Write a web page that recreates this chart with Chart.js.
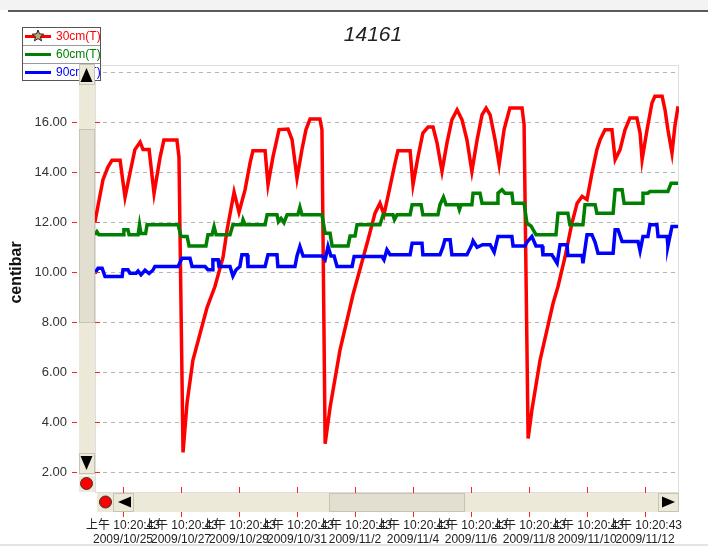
<!DOCTYPE html>
<html>
<head>
<meta charset="utf-8">
<script src="https://cdn.jsdelivr.net/npm/chart.js@4.4.0/dist/chart.umd.min.js"></script>
<style>
  html, body { margin: 0; padding: 0; background: #fff; }
  #wrap { width: 708px; height: 546px; }
</style>
</head>
<body>
<div id="wrap"><canvas id="chart" width="708" height="546"></canvas></div>
<script>
// x = days since 2009/10/25 10:20:43, y = centibar
const red30 = [
  [-0.97,12.0],[-0.69,13.7],[-0.52,14.2],[-0.38,14.47],[-0.10,14.47],[0.07,13.0],[0.24,13.96],[0.41,14.9],[0.59,15.2],[0.69,14.9],[0.90,14.9],[1.07,13.15],[1.28,14.6],[1.41,15.28],[1.86,15.28],[1.93,14.6],
  [2.07,2.8],[2.21,4.8],[2.41,6.48],[2.90,8.6],[3.17,9.43],[3.45,10.6],[3.59,11.7],[3.83,13.2],[4.00,12.4],[4.21,13.3],[4.38,14.36],[4.48,14.85],[4.90,14.85],[5.00,13.5],[5.17,14.6],[5.38,15.7],[5.69,15.72],[5.83,15.3],[6.00,13.76],[6.17,14.9],[6.31,15.7],[6.45,16.12],[6.79,16.12],[6.86,15.7],
  [6.97,3.15],[7.14,4.6],[7.48,6.88],[7.93,9.1],[8.45,11.3],[8.69,12.36],[8.86,12.76],[9.00,12.3],[9.21,13.43],[9.38,14.36],[9.48,14.85],[9.90,14.85],[10.00,13.5],[10.17,14.6],[10.34,15.56],[10.52,15.8],[10.69,15.8],[10.83,15.16],[11.00,14.03],[11.17,15.16],[11.34,16.09],[11.52,16.49],[11.69,16.09],[11.86,15.29],[12.03,14.03],[12.21,15.29],[12.38,16.29],[12.52,16.56],[12.66,16.29],[12.83,15.29],[12.97,14.3],[13.14,15.7],[13.34,16.56],[13.76,16.56],[13.83,15.9],
  [13.97,3.36],[14.10,4.5],[14.38,6.48],[14.83,8.76],[15.00,9.43],[15.24,10.6],[15.48,11.96],[15.66,12.76],[15.83,13.03],[16.00,12.9],[16.17,13.96],[16.34,14.9],[16.45,15.29],[16.62,15.69],[16.86,15.69],[16.97,14.5],[17.14,14.9],[17.31,15.69],[17.48,16.16],[17.72,16.16],[17.83,15.56],[17.90,14.5],[18.07,15.69],[18.24,16.76],[18.34,17.03],[18.59,17.03],[18.69,16.49],[18.79,15.69],[18.93,14.76],[19.03,15.83],[19.14,16.63]
];
const green60 = [
  [-0.97,11.5],[-0.90,11.62],[-0.83,11.5],[0.00,11.5],[0.03,11.7],[0.17,11.7],[0.21,11.5],[0.52,11.5],[0.57,11.9],[0.62,11.55],[0.78,11.55],[0.83,11.9],[1.90,11.9],[2.00,11.43],[2.21,11.43],[2.28,11.05],[2.86,11.05],[2.93,11.5],[3.07,11.5],[3.14,11.82],[3.21,11.5],[3.69,11.5],[3.79,11.9],[4.10,11.9],[4.14,12.1],[4.21,11.9],[4.90,11.9],[4.97,12.3],[5.31,12.3],[5.36,12.02],[5.45,12.15],[5.55,11.98],[5.66,12.3],[6.03,12.3],[6.10,12.6],[6.17,12.3],[6.86,12.3],
  [6.97,11.56],[7.14,11.56],[7.21,11.05],[7.76,11.05],[7.83,11.45],[8.00,11.45],[8.07,11.9],[8.86,11.9],[8.97,12.3],[9.31,12.3],[9.36,12.1],[9.45,12.3],[9.90,12.3],[9.97,12.7],[10.28,12.7],[10.34,12.3],[10.86,12.3],[10.93,12.7],[11.05,13.0],[11.14,12.7],[11.55,12.7],[11.60,12.5],[11.66,12.7],[12.03,12.7],[12.07,13.16],[12.31,13.16],[12.38,12.76],[12.90,12.76],[12.93,13.16],[13.07,13.3],[13.17,13.16],[13.41,13.16],[13.45,12.76],[13.83,12.76],
  [13.93,11.95],[14.07,11.85],[14.24,11.5],[14.93,11.5],[15.00,12.36],[15.34,12.36],[15.41,11.9],[15.86,11.9],[15.93,12.7],[16.28,12.7],[16.34,12.36],[16.90,12.36],[16.97,13.3],[17.21,13.3],[17.28,12.76],[17.90,12.76],[17.93,13.16],[18.10,13.16],[18.17,13.23],[18.79,13.23],[18.90,13.56],[19.14,13.56]
];
const blue90 = [
  [-0.97,9.96],[-0.86,10.16],[-0.72,10.16],[-0.62,9.83],[-0.03,9.83],[0.00,10.1],[0.17,10.1],[0.24,9.96],[0.45,9.96],[0.52,10.05],[0.62,9.9],[0.76,10.08],[0.90,9.95],[1.03,10.08],[1.10,10.23],[1.90,10.23],[2.03,10.56],[2.31,10.56],[2.38,10.23],[2.83,10.23],[2.93,10.1],[3.07,10.1],[3.10,10.5],[3.28,10.5],[3.31,10.23],[3.69,10.23],[3.79,9.85],[3.90,10.1],[4.03,10.23],[4.10,10.7],[4.28,10.7],[4.31,10.23],[4.90,10.23],[5.00,10.7],[5.31,10.7],[5.34,10.23],[5.93,10.23],[6.00,10.65],[6.10,11.03],[6.21,10.65],[6.86,10.65],
  [6.97,10.5],[7.07,11.03],[7.17,10.65],[7.28,10.65],[7.38,10.23],[7.90,10.23],[7.97,10.63],[8.93,10.63],[9.00,10.5],[9.10,10.9],[9.21,10.7],[9.90,10.7],[9.97,11.16],[10.31,11.16],[10.34,10.7],[10.93,10.7],[11.03,11.0],[11.10,11.3],[11.28,11.3],[11.34,10.7],[11.86,10.7],[12.03,11.1],[12.07,11.25],[12.21,11.0],[12.40,11.1],[12.66,11.1],[12.80,10.8],[12.93,11.43],[13.41,11.43],[13.45,11.05],[13.86,11.05],
  [13.93,11.2],[14.10,11.43],[14.24,11.05],[14.45,11.05],[14.48,10.7],[14.79,10.7],[14.97,10.36],[15.07,11.1],[15.31,11.1],[15.34,10.67],[15.83,10.67],[15.86,10.36],[16.00,11.5],[16.17,11.5],[16.28,11.2],[16.38,10.76],[16.90,10.76],[16.97,11.7],[17.07,11.7],[17.21,11.23],[17.76,11.23],[17.83,10.85],[17.93,11.43],[18.10,11.43],[18.17,11.9],[18.41,11.9],[18.45,11.43],[18.76,11.43],[18.79,11.05],[18.93,11.83],[19.14,11.83]
];

const seriesNames = ['30cm(T)', '60cm(T)', '90cm(T)'];
const seriesColors = ['#ff0000', '#008000', '#0000ff'];
const xTickDays = [0, 2, 4, 6, 8, 10, 12, 14, 16, 18];
const xTickDates = ['2009/10/25', '2009/10/27', '2009/10/29', '2009/10/31', '2009/11/2',
                    '2009/11/4', '2009/11/6', '2009/11/8', '2009/11/10', '2009/11/12'];
const xTickTime = '上午 10:20:43';
const yTicks = [2, 4, 6, 8, 10, 12, 14, 16, 18];

const FONT = '"Liberation Sans", Arial, "Noto Sans CJK SC", sans-serif';
const BEIGE = '#ece9d8';

function tri(ctx, pts) {
    ctx.beginPath();
    ctx.moveTo(pts[0], pts[1]);
    ctx.lineTo(pts[2], pts[3]);
    ctx.lineTo(pts[4], pts[5]);
    ctx.closePath();
    ctx.fillStyle = '#000';
    ctx.fill();
}

function dot(ctx, x, y) {
    ctx.beginPath();
    ctx.arc(x, y, 6, 0, Math.PI * 2);
    ctx.fillStyle = '#ff0000';
    ctx.fill();
    ctx.strokeStyle = '#333';
    ctx.lineWidth = 1;
    ctx.stroke();
}

function star(ctx, cx, cy, r1, r2) {
    ctx.beginPath();
    for (let i = 0; i < 10; i++) {
        const r = i % 2 ? r2 : r1;
        const a = -Math.PI / 2 + i * Math.PI / 5;
        ctx.lineTo(cx + r * Math.cos(a), cy + r * Math.sin(a));
    }
    ctx.closePath();
    ctx.fillStyle = '#c9a46a';
    ctx.fill();
    ctx.strokeStyle = '#222';
    ctx.lineWidth = 1;
    ctx.stroke();
}

const decor = {
    id: 'decor',
    beforeDraw(chart) {
        const { ctx, chartArea: a } = chart;
        ctx.save();
        ctx.fillStyle = '#fff';
        ctx.fillRect(0, 0, chart.width, chart.height);
        // window frame at the top and bottom
        ctx.fillStyle = '#f3f3f3';
        ctx.fillRect(0, 0, chart.width, 10);
        ctx.fillStyle = '#5a5a5a';
        ctx.fillRect(8, 10, chart.width - 8, 2);
        ctx.fillStyle = '#e4e4e4';
        ctx.fillRect(0, 544, chart.width, 2);
        // plot frame
        ctx.strokeStyle = '#dedede';
        ctx.lineWidth = 1;
        ctx.strokeRect(a.left + 0.5, a.top + 0.5, a.right - a.left - 1, a.bottom - a.top + 12);
        ctx.restore();
    },
    afterDraw(chart) {
        const { ctx } = chart;
        const xs = chart.scales.x, ys = chart.scales.y;
        ctx.save();

        // title
        ctx.fillStyle = '#222';
        ctx.font = 'italic 21px ' + FONT;
        ctx.textAlign = 'center';
        ctx.textBaseline = 'middle';
        ctx.fillText('14161', 373, 35);

        // red tick marks
        ctx.strokeStyle = '#ff2020';
        ctx.lineWidth = 1;
        ctx.beginPath();
        yTicks.forEach(v => {
            const y = Math.round(ys.getPixelForValue(v)) + 0.5;
            ctx.moveTo(72, y); ctx.lineTo(77, y);
            ctx.moveTo(95, y); ctx.lineTo(100, y);
        });
        xTickDays.forEach(d => {
            const x = Math.round(xs.getPixelForValue(d)) + 0.5;
            ctx.moveTo(x, 487); ctx.lineTo(x, 493);
            ctx.moveTo(x, 511); ctx.lineTo(x, 517);
        });
        ctx.stroke();

        // legend box
        ctx.fillStyle = '#fff';
        ctx.fillRect(22, 27, 79, 54);
        ctx.strokeStyle = '#555';
        ctx.strokeRect(22.5, 27.5, 78, 53);
        ctx.strokeStyle = '#999';
        ctx.beginPath();
        ctx.moveTo(23, 45.5); ctx.lineTo(100, 45.5);
        ctx.moveTo(23, 63.5); ctx.lineTo(100, 63.5);
        ctx.stroke();
        ctx.font = '12px ' + FONT;
        ctx.textAlign = 'left';
        seriesNames.forEach((name, i) => {
            const y = 36.5 + i * 18;
            ctx.strokeStyle = seriesColors[i];
            ctx.lineWidth = 3;
            ctx.beginPath();
            ctx.moveTo(25, y); ctx.lineTo(51, y);
            ctx.stroke();
            ctx.fillStyle = seriesColors[i];
            ctx.fillText(name, 56, y);
        });
        star(ctx, 38, 36, 6, 2.6);

        // vertical scrollbar
        ctx.fillStyle = BEIGE;
        ctx.fillRect(79, 64, 16, 411);
        ctx.fillStyle = '#e2ded0';
        ctx.fillRect(79, 129, 16, 194);
        ctx.strokeStyle = '#c8c4b4';
        ctx.lineWidth = 1;
        ctx.strokeRect(79.5, 129.5, 15, 193);
        ctx.strokeRect(79.5, 64.5, 15, 20);
        ctx.strokeRect(79.5, 453.5, 15, 20);
        tri(ctx, [80.5, 82, 92.5, 82, 86.5, 68]);
        tri(ctx, [80.5, 456, 92.5, 456, 86.5, 470]);
        ctx.fillStyle = BEIGE;
        ctx.fillRect(79, 476, 16, 16);
        dot(ctx, 86.5, 483.5);

        // horizontal scrollbar
        ctx.fillStyle = BEIGE;
        ctx.fillRect(97, 493, 582, 19);
        ctx.fillStyle = '#e2ded0';
        ctx.fillRect(329, 493, 136, 19);
        ctx.strokeStyle = '#c8c4b4';
        ctx.strokeRect(329.5, 493.5, 135, 18);
        ctx.strokeRect(113.5, 493.5, 20, 18);
        ctx.strokeRect(658.5, 493.5, 20, 18);
        dot(ctx, 105.5, 502);
        tri(ctx, [131, 496.5, 131, 507.5, 118, 502]);
        tri(ctx, [662, 496.5, 662, 507.5, 675, 502]);

        ctx.restore();
    }
};

const ctx = document.getElementById('chart').getContext('2d');
new Chart(ctx, {
    type: 'line',
    data: {
        datasets: [red30, green60, blue90].map((pts, i) => ({
            label: seriesNames[i],
            data: pts.map(p => ({ x: p[0], y: p[1] })),
            borderColor: seriesColors[i],
            borderWidth: 3.5,
            pointRadius: 0,
            tension: 0,
            fill: false
        })).reverse()
    },
    options: {
        responsive: false,
        animation: false,
        layout: { padding: { left: 0, right: 29, top: 65, bottom: 0 } },
        plugins: {
            legend: { display: false },
            tooltip: { enabled: false },
            title: { display: false }
        },
        scales: {
            x: {
                type: 'linear',
                min: -0.9655,
                max: 19.172,
                afterBuildTicks: s => { s.ticks = xTickDays.map(v => ({ value: v })); },
                afterFit: s => { s.height = 66; s.paddingLeft = 0; s.paddingRight = 0; },
                grid: { display: false, drawTicks: false },
                border: { display: false },
                ticks: {
                    autoSkip: false,
                    maxRotation: 0,
                    minRotation: 0,
                    padding: 38,
                    color: '#222',
                    font: { family: FONT, size: 12, lineHeight: 1.2 },
                    callback: (v, i) => [xTickTime, xTickDates[i]]
                }
            },
            y: {
                min: 1.7,
                max: 18.28,
                afterBuildTicks: s => { s.ticks = yTicks.map(v => ({ value: v })); },
                afterFit: s => { s.width = 95; s.paddingTop = 0; s.paddingBottom = 0; },
                grid: { color: '#b4b4b4', lineWidth: 1, drawTicks: false },
                border: { display: false, dash: [4, 4] },
                ticks: {
                    padding: 28,
                    color: '#333',
                    font: { family: FONT, size: 13 },
                    callback: v => v.toFixed(2)
                },
                title: {
                    display: true,
                    text: 'centibar',
                    color: '#111',
                    font: { family: FONT, size: 16, weight: 'bold' },
                    padding: { top: 7, bottom: 0 }
                }
            }
        }
    },
    plugins: [decor]
});
</script>
</body>
</html>
